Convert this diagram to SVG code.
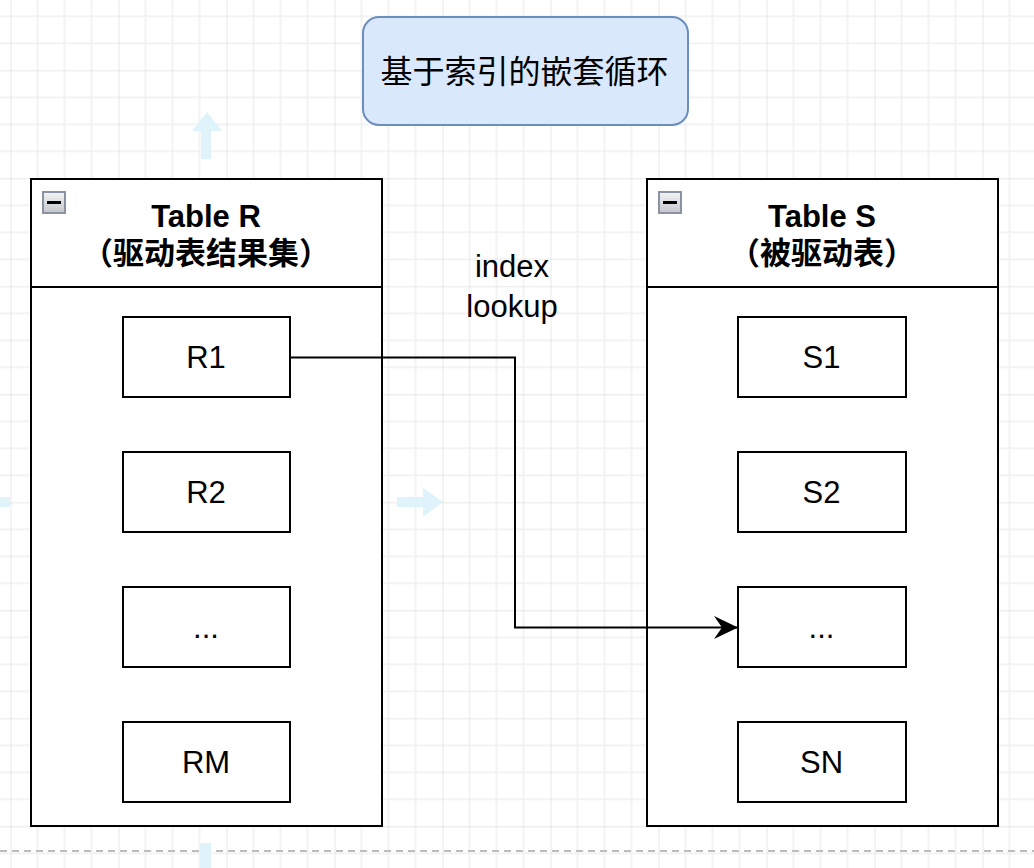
<svg xmlns="http://www.w3.org/2000/svg" width="1034" height="868" viewBox="0 0 1034 868">
  <defs>
    <pattern id="grid" patternUnits="userSpaceOnUse" x="10.5" y="70.3" width="108" height="108">
      <path d="M27 0V108M54 0V108M81 0V108M0 27H108M0 54H108M0 81H108" stroke="#f0f0f0" stroke-width="1.5" fill="none"/>
      <path d="M0 0V108M0 0H108" stroke="#d2d2d2" stroke-width="1" fill="none"/>
    </pattern>
    <linearGradient id="iconGrad" x1="0" y1="0" x2="0" y2="1">
      <stop offset="0" stop-color="#f4f4f4"/>
      <stop offset="1" stop-color="#c4c6cc"/>
    </linearGradient>
    <marker id="arrow" viewBox="0 0 24 23" refX="24" refY="11.5" markerWidth="24" markerHeight="23" markerUnits="userSpaceOnUse" orient="auto">
      <path d="M24 11.5L0 0L8 11.5L0 23Z" fill="#000"/>
    </marker>
  </defs>
  <style>
    .box { fill: #ffffff; stroke: #000000; stroke-width: 2; }
    .lbl { font-family: "Liberation Sans", "Noto Sans CJK SC", sans-serif; font-size: 31px; fill: #000; text-anchor: middle; }
    .hdr { font-family: "Liberation Sans", "Noto Sans CJK SC", sans-serif; font-size: 31px; font-weight: bold; fill: #000; text-anchor: middle; }
    .ttl { font-family: "Noto Sans CJK SC", sans-serif; font-size: 32px; fill: #000; text-anchor: middle; }
    .ghost { fill: #dff3fb; }
    .icon { fill: url(#iconGrad); stroke: #8a92a4; stroke-width: 2; }
  </style>
  <rect x="0" y="0" width="1034" height="868" fill="#ffffff"/>
  <rect x="0" y="0" width="1034" height="868" fill="url(#grid)"/>
  <line x1="0" y1="851" x2="1034" y2="851" stroke="#bdbdbd" stroke-width="2" stroke-dasharray="7 5"/>

  <g id="ghost-arrows">
    <polygon class="ghost" points="207,112 222,131 211,131 211,159 201,159 201,131 192,131"/>
    <polygon class="ghost" points="443,502 423,488 423,497 397,497 397,507 423,507 423,517"/>
    <rect class="ghost" x="0" y="497" width="10" height="10"/>
    <rect class="ghost" x="200" y="843" width="11" height="25"/>
  </g>

  <g id="title">
    <rect x="363" y="17" width="325" height="108" rx="16" ry="16" fill="#dae8fc" stroke="#6c8ebf" stroke-width="2"/>
    <text class="ttl" x="524.5" y="83">基于索引的嵌套循环</text>
  </g>

  <g id="tableR">
    <rect class="box" x="31" y="179" width="351" height="647"/>
    <line x1="31" y1="287" x2="382" y2="287" stroke="#000" stroke-width="2"/>
    <rect class="icon" x="43" y="192" width="22" height="21"/>
    <line x1="47" y1="202.5" x2="61" y2="202.5" stroke="#000" stroke-width="3"/>
    <text class="hdr" x="206" y="227">Table R</text>
    <text class="hdr" x="206" y="264">（驱动表结果集）</text>
  </g>
  <g id="R1"><rect class="box" x="123" y="317" width="167" height="80"/><text class="lbl" x="206" y="368">R1</text></g>
  <g id="R2"><rect class="box" x="123" y="452" width="167" height="80"/><text class="lbl" x="206" y="503">R2</text></g>
  <g id="R3"><rect class="box" x="123" y="587" width="167" height="80"/><text class="lbl" x="206" y="638">...</text></g>
  <g id="RM"><rect class="box" x="123" y="722" width="167" height="80"/><text class="lbl" x="206" y="773">RM</text></g>

  <g id="tableS">
    <rect class="box" x="647" y="179" width="351" height="647"/>
    <line x1="647" y1="287" x2="998" y2="287" stroke="#000" stroke-width="2"/>
    <rect class="icon" x="659" y="192" width="22" height="21"/>
    <line x1="663" y1="202.5" x2="677" y2="202.5" stroke="#000" stroke-width="3"/>
    <text class="hdr" x="822" y="227">Table S</text>
    <text class="hdr" x="822" y="264">（被驱动表）</text>
  </g>
  <g id="S1"><rect class="box" x="738" y="317" width="168" height="80"/><text class="lbl" x="821.5" y="368">S1</text></g>
  <g id="S2"><rect class="box" x="738" y="452" width="168" height="80"/><text class="lbl" x="821.5" y="503">S2</text></g>
  <g id="S3"><rect class="box" x="738" y="587" width="168" height="80"/><text class="lbl" x="821.5" y="638">...</text></g>
  <g id="SN"><rect class="box" x="738" y="722" width="168" height="80"/><text class="lbl" x="821.5" y="773">SN</text></g>

  <g id="connectors">
    <path d="M290 357.5H515V627.5H738" fill="none" stroke="#000" stroke-width="2" marker-end="url(#arrow)"/>
    <text class="lbl" x="512" y="277">index</text>
    <text class="lbl" x="512" y="317">lookup</text>
  </g>
</svg>
